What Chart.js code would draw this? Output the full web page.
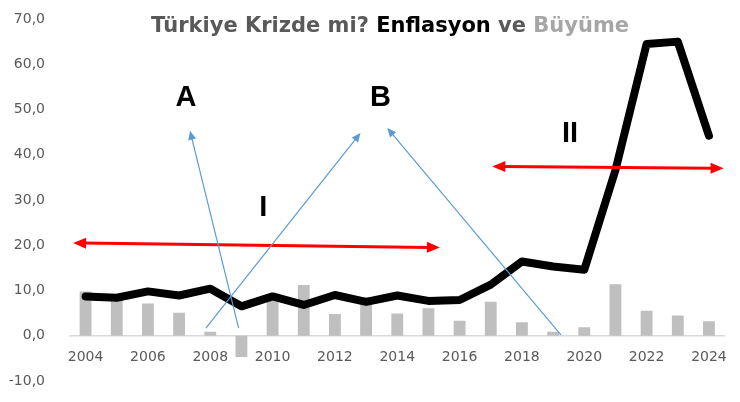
<!DOCTYPE html>
<html>
<head>
<meta charset="utf-8">
<script src="https://cdn.jsdelivr.net/npm/chart.js@4.4.1/dist/chart.umd.min.js"></script>
<style>
  html, body { margin: 0; padding: 0; background: #ffffff; }
  #wrap { width: 740px; height: 402px; }
</style>
</head>
<body>
<div id="wrap"><canvas id="chart"></canvas></div>
<script>
// Yıllar ve seriler
const years = ['2004', '2005', '2006', '2007', '2008', '2009', '2010', '2011', '2012', '2013', '2014',
               '2015', '2016', '2017', '2018', '2019', '2020', '2021', '2022', '2023', '2024'];
const enflasyon = [8.7, 8.4, 9.8, 8.9, 10.4, 6.5, 8.7, 6.8, 9.0, 7.5, 8.9,
                   7.7, 7.9, 11.3, 16.4, 15.3, 14.6, 36.6, 64.5, 65.0, 44.2];
const buyume = [9.8, 9.0, 7.1, 5.1, 0.9, -4.7, 8.4, 11.2, 4.8, 8.5, 4.9,
                6.1, 3.3, 7.5, 3.0, 0.9, 1.9, 11.4, 5.5, 4.5, 3.2];
const yTicks = [-10, 0, 10, 20, 30, 40, 50, 60, 70];

// Açıklamalar (x: yıl sırası, y: değer)
const kirmiziOklar = [
    [[-0.40, 20.5], [11.37, 19.5]],
    [[13.05, 37.4], [20.47, 37.0]]
];
const maviOklar = [
    [[4.91, 1.7], [3.35, 45.3]],
    [[3.86, 1.7], [8.82, 44.8]],
    [[15.25, 0.2], [9.68, 45.9]]
];
const etiketler = [
    ['A', 3.22, 52.5],
    ['B', 9.46, 52.5],
    ['I', 5.70, 28.2],
    ['II', 15.54, 44.6]
];

function arrowHead(ctx, x1, y1, x2, y2, len, half) {
    const a = Math.atan2(y2 - y1, x2 - x1);
    ctx.beginPath();
    ctx.moveTo(x2, y2);
    ctx.lineTo(x2 - len * Math.cos(a) + half * Math.sin(a), y2 - len * Math.sin(a) - half * Math.cos(a));
    ctx.lineTo(x2 - len * Math.cos(a) - half * Math.sin(a), y2 - len * Math.sin(a) + half * Math.cos(a));
    ctx.closePath();
    ctx.fill();
}

const annotationPlugin = {
    id: 'notlar',
    afterDatasetsDraw(chart) {
        const ctx = chart.ctx;
        const xs = chart.scales.x, ys = chart.scales.y;
        const px = v => xs.getPixelForValue(v);
        const py = v => ys.getPixelForValue(v);
        ctx.save();

        // kırmızı çift yönlü oklar
        ctx.strokeStyle = '#ff0000';
        ctx.fillStyle = '#ff0000';
        ctx.lineWidth = 3;
        kirmiziOklar.forEach(([p, q]) => {
            const x1 = px(p[0]), y1 = py(p[1]), x2 = px(q[0]), y2 = py(q[1]);
            const a = Math.atan2(y2 - y1, x2 - x1);
            ctx.beginPath();
            ctx.moveTo(x1 + 10 * Math.cos(a), y1 + 10 * Math.sin(a));
            ctx.lineTo(x2 - 10 * Math.cos(a), y2 - 10 * Math.sin(a));
            ctx.stroke();
            arrowHead(ctx, x1, y1, x2, y2, 13, 5.5);
            arrowHead(ctx, x2, y2, x1, y1, 13, 5.5);
        });

        // mavi oklar
        ctx.strokeStyle = '#5b9bd5';
        ctx.fillStyle = '#5b9bd5';
        ctx.lineWidth = 1.2;
        maviOklar.forEach(([p, q]) => {
            const x1 = px(p[0]), y1 = py(p[1]), x2 = px(q[0]), y2 = py(q[1]);
            const a = Math.atan2(y2 - y1, x2 - x1);
            ctx.beginPath();
            ctx.moveTo(x1, y1);
            ctx.lineTo(x2 - 6 * Math.cos(a), y2 - 6 * Math.sin(a));
            ctx.stroke();
            arrowHead(ctx, x1, y1, x2, y2, 9, 4);
        });

        // harfler
        ctx.fillStyle = '#000000';
        ctx.font = 'bold 29px "Liberation Sans", Arial, sans-serif';
        ctx.textAlign = 'center';
        ctx.textBaseline = 'middle';
        etiketler.forEach(([t, xv, yv]) => ctx.fillText(t, px(xv), py(yv)));

        // başlık
        const parts = [
            ['Türkiye Krizde mi? ', '#595959'],
            ['Enflasyon', '#000000'],
            [' ve ', '#595959'],
            ['Büyüme', '#a6a6a6']
        ];
        ctx.font = 'bold 21px "DejaVu Sans", Verdana, sans-serif';
        ctx.textAlign = 'left';
        const total = parts.reduce((s, p) => s + ctx.measureText(p[0]).width, 0);
        let x = 390 - total / 2;
        parts.forEach(([t, c]) => {
            ctx.fillStyle = c;
            ctx.fillText(t, x, 27);
            x += ctx.measureText(t).width;
        });
        ctx.restore();
    }
};

const ctx = document.getElementById('chart');
new Chart(ctx, {
    data: {
        labels: years,
        datasets: [
            {
                type: 'line',
                label: 'Enflasyon',
                data: enflasyon,
                borderColor: '#000000',
                borderWidth: 8,
                borderJoinStyle: 'round',
                borderCapStyle: 'round',
                pointRadius: 0,
                tension: 0,
                order: 0
            },
            {
                type: 'bar',
                label: 'Büyüme',
                data: buyume,
                backgroundColor: '#bfbfbf',
                barPercentage: 0.38,
                categoryPercentage: 1,
                order: 1
            }
        ]
    },
    options: {
        responsive: true,
        maintainAspectRatio: false,
        animation: false,
        layout: { padding: { top: 19, right: 10, bottom: 21, left: 0 } },
        plugins: {
            legend: { display: false },
            tooltip: { enabled: false }
        },
        scales: {
            x: {
                position: { y: 0 },
                afterFit: scale => { scale.height = 0; },
                grid: { display: false, drawTicks: false },
                border: { display: true, color: '#d9d9d9', width: 1.5 },
                ticks: {
                    autoSkip: false,
                    maxRotation: 0,
                    padding: 13,
                    color: '#595959',
                    font: { family: '"DejaVu Sans", Verdana, sans-serif', size: 14 },
                    callback: function(value, index) {
                        return index % 2 === 0 ? this.getLabelForValue(value) : '';
                    }
                }
            },
            y: {
                min: -10,
                max: 70,
                afterFit: scale => {
                    scale.width = 70;
                    scale.paddingTop = 0;
                    scale.paddingBottom = 0;
                },
                afterBuildTicks: scale => { scale.ticks = yTicks.map(v => ({ value: v })); },
                grid: { display: false },
                border: { display: false },
                ticks: {
                    padding: 17,
                    color: '#595959',
                    font: { family: '"DejaVu Sans", Verdana, sans-serif', size: 14 },
                    callback: value => value.toFixed(1).replace('.', ',')
                }
            }
        }
    },
    plugins: [annotationPlugin]
});
</script>
</body>
</html>
